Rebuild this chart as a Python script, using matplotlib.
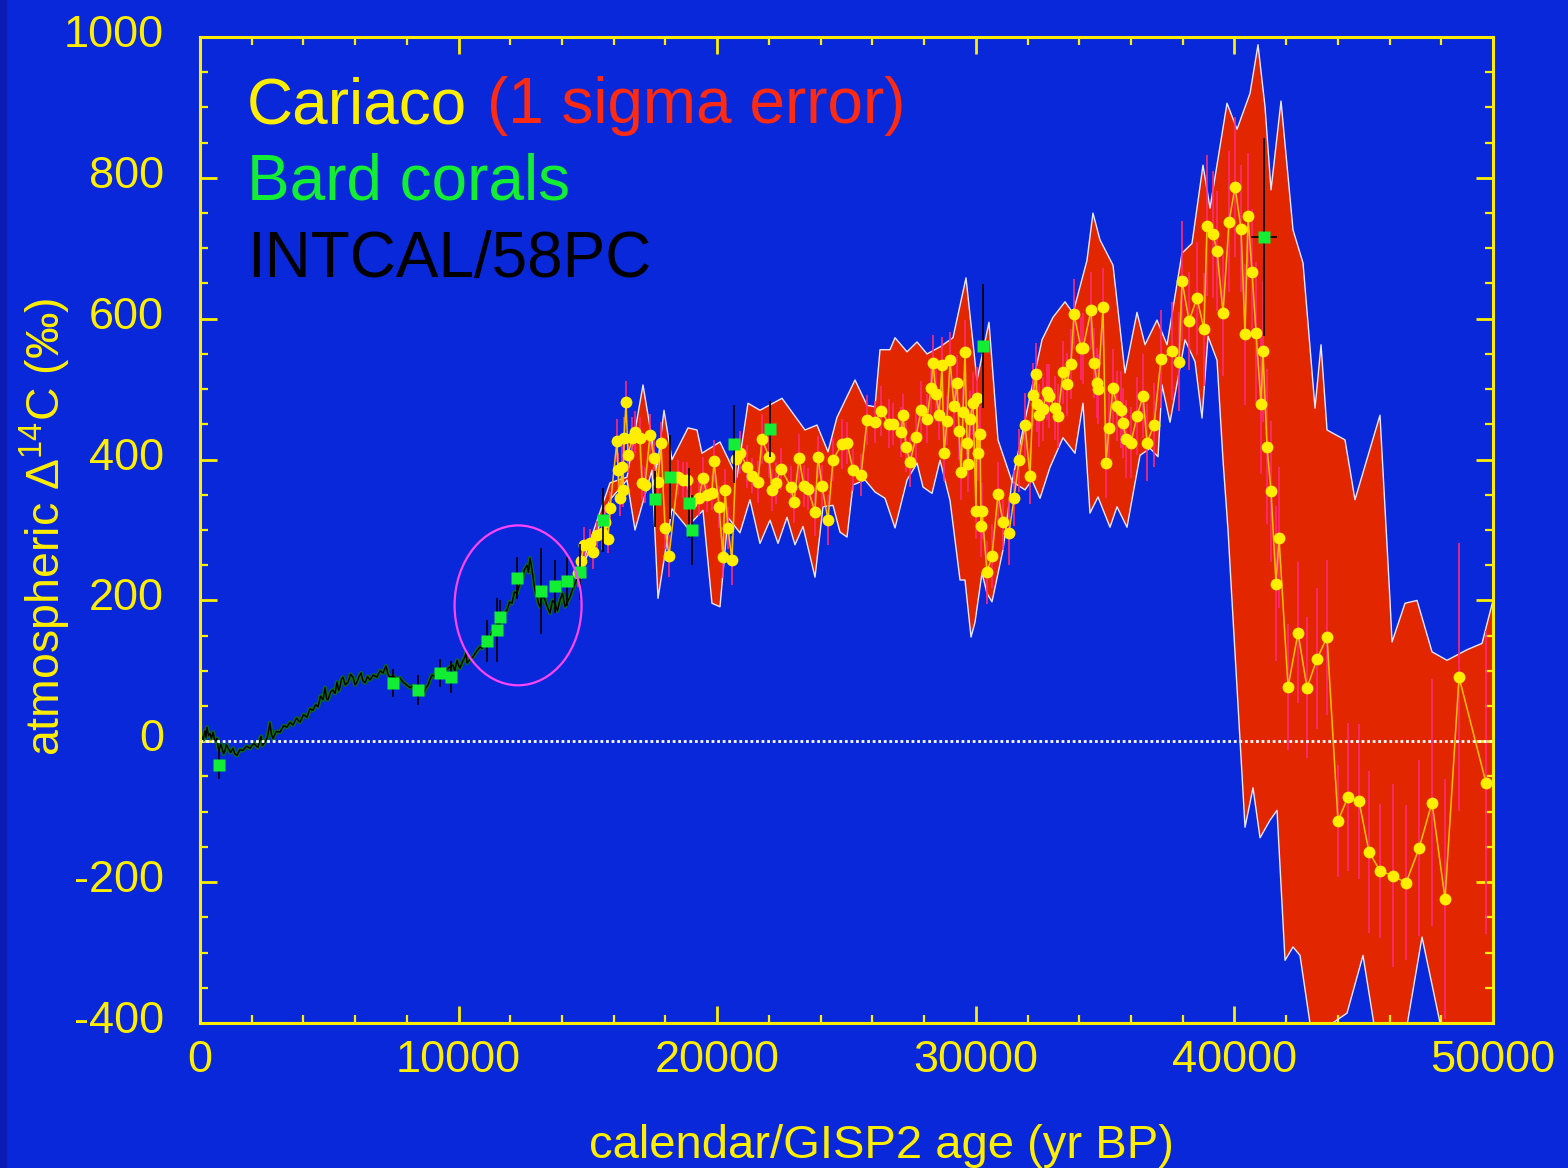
import numpy as np
import matplotlib
matplotlib.use("Agg")
import matplotlib.pyplot as plt
from matplotlib.patches import Ellipse, Rectangle
from matplotlib.ticker import MultipleLocator
from matplotlib.transforms import ScaledTranslation

plt.rcParams['font.family'] = ['Liberation Sans', 'DejaVu Sans']
plt.rcParams['mathtext.fontset'] = 'custom'
plt.rcParams['mathtext.rm'] = 'Liberation Sans'
plt.rcParams['mathtext.it'] = 'Liberation Sans:italic'
plt.rcParams['mathtext.bf'] = 'Liberation Sans:bold'
plt.rcParams['axes.unicode_minus'] = False

# colours
BG = '#0928d9'
YEL = '#ffee00'
RED = '#e22600'

# Cariaco (1 sigma) envelope, upper edge
band_up_age = [14617, 14694, 15855, 16512, 17131, 17672, 17943, 18252, 18871, 19218,
               19411, 20107, 20764, 21190, 21654, 22506, 23395, 23859, 24284, 24633,
               25329, 25793, 26102, 26296, 26683, 26876, 27340, 27727, 28114, 28616,
               29118, 29621, 30046, 30510, 30858, 31400, 32560, 32985, 33450, 33760,
               34300, 34531, 34802, 35306, 35770, 36234, 36543, 37007, 37394, 37974,
               38361, 38786, 39057, 39714, 40101, 40604, 40913, 41184, 41416, 41803,
               42267, 42654, 43118, 43350, 43582, 44276, 44663, 45630, 46017, 46095,
               46598, 47062, 47642, 48222, 48995, 49575, 50000]
band_up_val = [232, 243, 367, 375, 506, 386, 470, 400, 445, 442,
               409, 425, 375, 480, 470, 487, 442, 449, 411, 460,
               513, 477, 475, 556, 556, 573, 553, 567, 550, 560,
               573, 658, 513, 595, 428, 369, 570, 602, 624, 608,
               683, 750, 712, 676, 523, 609, 563, 598, 563, 693,
               707, 818, 757, 906, 869, 920, 989, 901, 783, 909,
               726, 679, 473, 563, 442, 428, 343, 463, 200, 141,
               196, 200, 127, 115, 130, 139, 200]

# envelope, lower edge
band_lo_age = [14617, 14694, 15855, 16512, 16822, 17478, 17711, 18252, 18832, 19450,
               19798, 20107, 20416, 20880, 21267, 21654, 22041, 22351, 22699, 23008,
               23318, 23782, 24091, 24478, 24749, 25020, 25252, 25716, 26102, 26489,
               26876, 27340, 27727, 27959, 28307, 28616, 29003, 29390, 29582, 29815,
               29969, 30240, 30433, 30626, 31052, 31400, 31903, 32172, 32482, 32869,
               33371, 33835, 34145, 34415, 34725, 35189, 35460, 35847, 36350, 36737,
               37046, 37201, 37510, 38090, 38477, 38748, 38980, 39328, 39560, 39753,
               39907, 40217, 40411, 40720, 40991, 41377, 41648, 41958, 42267, 42537,
               43002, 44354, 44973, 45476, 46598, 47255, 48067, 50000]
band_lo_val = [232, 239, 343, 371, 300, 385, 203, 330, 304, 328,
               196, 191, 318, 296, 343, 281, 314, 281, 318, 279,
               305, 233, 333, 335, 297, 290, 364, 371, 354, 345,
               303, 371, 395, 361, 352, 399, 342, 229, 229, 148,
               169, 239, 210, 198, 272, 369, 357, 371, 345, 389,
               431, 409, 480, 324, 347, 304, 333, 304, 406, 416,
               404, 506, 453, 570, 539, 459, 575, 541, 399, 300,
               200, 2, -122, -66, -137, -112, -98, -311, -292, -304,
               -420, -386, -304, -420, -420, -278, -420, -420]

# Cariaco points
car_age = [14617, 14733, 14849, 15081, 15197, 15352, 15545, 15661, 15777, 15855,
           16125, 16164, 16242, 16319, 16358, 16400, 16474, 16551, 16706, 16822,
           17015, 17092, 17208, 17402, 17556, 17711, 17826, 17981, 18136, 18484,
           18678, 18832, 18987, 19296, 19450, 19605, 19798, 19876, 20069, 20223,
           20301, 20416, 20571, 20725, 20880, 21151, 21345, 21577, 21732, 22003,
           22119, 22274, 22467, 22854, 22970, 23163, 23356, 23511, 23782, 23898,
           24052, 24284, 24478, 24826, 25020, 25252, 25561, 25793, 26102, 26335,
           26644, 26799, 27108, 27185, 27301, 27456, 27688, 27882, 28114, 28268,
           28346, 28462, 28578, 28694, 28771, 28887, 29003, 29158, 29274, 29351,
           29428, 29506, 29583, 29660, 29699, 29776, 29892, 30008, 30046, 30085,
           30163, 30201, 30240, 30433, 30626, 30858, 31052, 31284, 31477, 31671,
           31903, 32096, 32212, 32328, 32366, 32444, 32599, 32753, 32831, 33063,
           33179, 33372, 33527, 33681, 33797, 34068, 34145, 34454, 34570, 34686,
           34725, 34918, 35034, 35150, 35306, 35460, 35615, 35692, 35808, 36002,
           36234, 36466, 36621, 36892, 37162, 37588, 37859, 37974, 38245, 38554,
           38825, 38941, 39173, 39328, 39560, 39792, 40024, 40256, 40411, 40527,
           40682, 40836, 41029, 41106, 41261, 41416, 41609, 41725, 42074, 42460,
           42808, 43195, 43582, 44006, 44393, 44818, 45205, 45630, 46133, 46636,
           47139, 47642, 48145, 48686, 49730]
car_d14c = [239, 256, 279, 282, 269, 293, 296, 311, 287, 331,
            427, 385, 345, 390, 357, 430, 482, 406, 430, 439,
            430, 367, 364, 435, 402, 368, 424, 303, 263, 375,
            371, 371, 338, 345, 374, 350, 353, 398, 333, 262,
            357, 303, 257, 401, 410, 390, 377, 368, 429, 404,
            357, 367, 387, 361, 340, 402, 362, 358, 326, 404,
            363, 314, 400, 422, 424, 385, 378, 456, 453, 469,
            451, 450, 439, 463, 418, 396, 432, 471, 458, 502,
            537, 493, 463, 534, 409, 455, 541, 476, 509, 440,
            382, 467, 553, 424, 394, 458, 480, 327, 487, 409,
            436, 306, 327, 240, 263, 351, 311, 296, 345, 399,
            449, 377, 492, 521, 479, 463, 472, 496, 490, 473,
            462, 524, 507, 536, 607, 558, 558, 612, 537, 509,
            500, 617, 395, 445, 502, 476, 471, 452, 429, 424,
            462, 490, 424, 449, 543, 554, 539, 654, 597, 629,
            585, 732, 720, 696, 608, 738, 787, 728, 578, 746,
            666, 580, 479, 554, 418, 355, 224, 289, 77, 154,
            76, 117, 148, -113, -79, -85, -157, -184, -191, -201,
            -152, -87, -224, 91, -59]
car_err = [20, 20, 25, 20, 25, 20, 25, 25, 20, 25,
           30, 25, 25, 30, 25, 30, 30, 25, 30, 30,
           30, 25, 25, 30, 30, 25, 30, 30, 30, 25,
           25, 25, 30, 25, 30, 25, 25, 30, 30, 30,
           30, 30, 35, 30, 30, 30, 25, 30, 35, 30,
           30, 30, 30, 30, 30, 35, 30, 30, 35, 30,
           30, 35, 30, 35, 30, 30, 30, 35, 30, 35,
           35, 30, 35, 30, 35, 35, 35, 40, 35, 40,
           40, 40, 35, 40, 40, 35, 40, 35, 40, 40,
           40, 35, 45, 40, 40, 40, 45, 40, 45, 40,
           40, 45, 40, 45, 45, 45, 40, 45, 40, 45,
           45, 40, 45, 45, 40, 45, 45, 40, 45, 45,
           45, 45, 45, 50, 50, 45, 50, 55, 50, 50,
           50, 55, 50, 50, 55, 50, 55, 50, 55, 50,
           55, 60, 55, 60, 70, 70, 70, 85, 70, 80,
           80, 100, 90, 85, 90, 100, 100, 90, 100, 90,
           90, 100, 100, 100, 110, 100, 110, 100, 90, 100,
           100, 100, 110, 80, 105, 110, 115, 95, 130, 110,
           125, 175, 170, 190, 215]

# Bard corals
bard_age = [735, 7463, 8430, 9281, 9706, 11098, 11485, 11601, 12258, 13186,
            13728, 14192, 14694, 15584, 17595, 18175, 18910, 19025, 20649, 22041,
            30278, 41145]
bard_d14c = [-33, 83, 73, 97, 91, 142, 158, 176, 232, 213,
             220, 227, 240, 314, 344, 375, 338, 300, 422, 443,
             561, 716]
bard_err = [20, 20, 21, 20, 23, 30, 45, 25, 30, 61,
            38, 35, 40, 45, 40, 60, 50, 50, 55, 40,
            88, 140]
bard_xerr = [0, 0, 0, 0, 0, 0, 0, 0, 0, 0,
             0, 0, 0, 0, 0, 0, 0, 0, 0, 0,
             0, 500]

# INTCAL / 58PC
ic_age = [0, 60, 120, 193, 230, 270, 330, 387, 440, 503, 580, 657, 700, 735, 800,
          851, 910, 967, 1020, 1083, 1180, 1276, 1350, 1431, 1540, 1663, 1800, 1934,
          2080, 2243, 2300, 2359, 2420, 2475, 2600, 2707, 2760, 2823, 2950, 3094,
          3230, 3364, 3480, 3596, 3730, 3867, 4000, 4138, 4250, 4370, 4470, 4563,
          4660, 4757, 4834, 4900, 4950, 5050, 5143, 5220, 5298, 5360, 5414, 5470,
          5530, 5620, 5723, 5820, 5917, 6000, 6071, 6150, 6226, 6300, 6381, 6480,
          6574, 6700, 6845, 6960, 7077, 7193, 7270, 7347, 7480, 7618, 7730, 7850,
          7990, 8121, 8250, 8392, 8500, 8624, 8720, 8817, 8900, 8972, 9070, 9165,
          9280, 9397, 9600, 9784, 9850, 9938, 10000, 10054, 10150, 10247, 10290,
          10325, 10440, 10557, 10700, 10827, 10920, 11021, 11120, 11214, 11300,
          11408, 11540, 11678, 11780, 11871, 11970, 12065, 12160, 12258, 12350,
          12451, 12550, 12645, 12700, 12761, 12820, 12877, 12950, 13031, 13090,
          13147, 13240, 13341, 13440, 13534, 13630, 13728, 13820, 13921, 14020,
          14115, 14210, 14308, 14400, 14501, 14617]
ic_d14c = [-5, 8, 2, 15, 5, 20, 8, 11, 4, 13, 0, 4, -8, -13, -4,
           -9, -18, -13, -5, -9, -16, -10, -18, -20, -12, -13, -7, -10,
           -3, -9, 0, 7, -6, -3, 5, 26, 10, 4, 14, 13,
           22, 20, 27, 23, 33, 27, 38, 34, 46, 44, 52, 49,
           64, 59, 76, 60, 59, 70, 73, 68, 84, 72, 77, 88,
           91, 80, 84, 95, 91, 80, 84, 92, 97, 86, 83, 92,
           87, 94, 91, 100, 97, 107, 95, 91, 93, 87, 90, 84,
           80, 76, 79, 73, 70, 66, 75, 80, 88, 94, 92, 101,
           95, 98, 104, 108, 100, 115, 108, 104, 113, 120, 126,
           111, 116, 120, 128, 134, 132, 144, 140, 148, 156,
           161, 166, 172, 183, 186, 198, 196, 212, 210, 222,
           229, 244, 250, 240, 260, 248, 233, 215, 205, 196,
           191, 208, 201, 190, 182, 200, 196, 185, 201, 210,
           191, 198, 205, 215, 224, 233]

fig = plt.figure(figsize=(15.68, 11.68), dpi=100, facecolor=BG)
fig.patches.append(Rectangle((0, 0), 6 / 1568, 1, transform=fig.transFigure,
                             color='#0a1cb2', zorder=0))
ax = fig.add_axes([200 / 1568, 145 / 1168, 1293 / 1568, 986 / 1168])
ax.set_facecolor(BG)

# envelope
poly_x = np.concatenate([band_up_age, band_lo_age[::-1]])
poly_y = np.concatenate([band_up_val, band_lo_val[::-1]])
ax.fill(poly_x, poly_y, color=RED, lw=0, zorder=1)
ax.plot(band_up_age, band_up_val, color='#e8e8ff', lw=1, zorder=2)
ax.plot(band_lo_age, band_lo_val, color='#e8e8ff', lw=1, zorder=2)

# INTCAL
ax.plot(ic_age, ic_d14c, color='#0b6a22', lw=3, zorder=3)
ax.plot(ic_age, ic_d14c, color='black', lw=1, zorder=3)

# Cariaco
ax.errorbar(car_age, car_d14c, yerr=car_err, fmt='none', ecolor='#ff2a78',
            elinewidth=1.2, capsize=0, zorder=4)
ax.plot(car_age, car_d14c, color='#ffbf00', lw=1.1, zorder=5)
ax.plot(car_age, car_d14c, 'o', color=YEL, ms=8.5, mec='none', zorder=6)

# Bard corals
ax.errorbar(bard_age, bard_d14c, yerr=bard_err, xerr=bard_xerr, fmt='none',
            ecolor='black', elinewidth=1.2, capsize=0, zorder=7)
ax.plot(bard_age, bard_d14c, 's', color='#11ee33', ms=8.5, mec='none', zorder=8)

# highlight and zero line
ax.add_patch(Ellipse((12300, 193), 4911, 227, fill=False, ec='#ff44ff', lw=1.6, zorder=9))
ax.axhline(0, color='white', lw=2, ls=(0, (1, 1)), zorder=10)

ax.set_xlim(0, 50000)
ax.set_ylim(-400, 1000)
ax.xaxis.set_major_locator(MultipleLocator(10000))
ax.xaxis.set_minor_locator(MultipleLocator(2000))
ax.yaxis.set_major_locator(MultipleLocator(200))
ax.yaxis.set_minor_locator(MultipleLocator(50))
for s in ax.spines.values():
    s.set_color(YEL)
    s.set_linewidth(2.2)
    s.set_zorder(12)
ax.tick_params(which='both', direction='in', top=True, right=True, color=YEL, labelcolor=YEL)
ax.tick_params(which='major', length=12.5, width=2, labelsize=32.5)
ax.tick_params(axis='y', which='major', pad=26)
ax.tick_params(axis='x', which='major', pad=12)
ax.tick_params(which='minor', length=6, width=1.6)

# y tick labels sit a little above their ticks
shift = ScaledTranslation(0, 6 / 100, fig.dpi_scale_trans)
for lab in ax.get_yticklabels():
    lab.set_transform(lab.get_transform() + shift)

fig.text(881 / 1568, 10 / 1168, 'calendar/GISP2 age (yr BP)', color=YEL, fontsize=34,
         ha='center', va='baseline')
fig.text(45 / 1568, 641 / 1168, r'atmospheric $\Delta^{14}$C (‰)', color=YEL, fontsize=33.5,
         rotation=90, ha='center', va='center')

# legend text
fig.text(247 / 1568, 1045 / 1168, 'Cariaco', color=YEL, fontsize=46, va='baseline')
fig.text(487 / 1568, 1045 / 1168, '(1 sigma error)', color='#ff2a12', fontsize=46, va='baseline')
fig.text(247 / 1568, 968 / 1168, 'Bard corals', color='#11ee33', fontsize=46, va='baseline')
fig.text(247 / 1568, 891 / 1168, 'INTCAL/58PC', color='black', fontsize=46, va='baseline')

fig.savefig('out.png', dpi=100, facecolor=BG)
